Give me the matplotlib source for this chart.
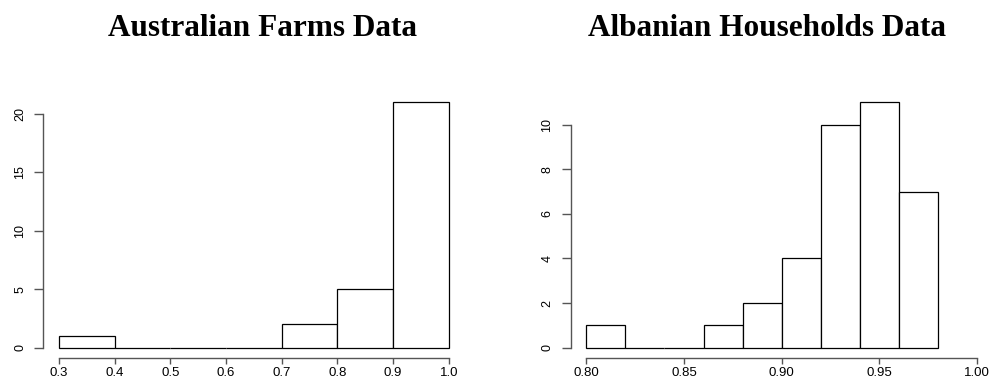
import matplotlib
matplotlib.use("Agg")
import matplotlib.pyplot as plt
import numpy as np

# Data
farm_edges = [0.3, 0.4, 0.5, 0.6, 0.7, 0.8, 0.9, 1.0]
farm_counts = [1, 0, 0, 0, 2, 5, 21]
farm_xticks = [0.3, 0.4, 0.5, 0.6, 0.7, 0.8, 0.9, 1.0]
farm_xticklabels = ["0.3", "0.4", "0.5", "0.6", "0.7", "0.8", "0.9", "1.0"]
farm_yticks = [0, 5, 10, 15, 20]

alb_edges = [0.80, 0.82, 0.84, 0.86, 0.88, 0.90, 0.92, 0.94, 0.96, 0.98]
alb_counts = [1, 0, 0, 1, 2, 4, 10, 11, 7]
alb_xticks = [0.80, 0.85, 0.90, 0.95, 1.00]
alb_xticklabels = ["0.80", "0.85", "0.90", "0.95", "1.00"]
alb_yticks = [0, 2, 4, 6, 8, 10]

titles = ["Australian Farms Data", "Albanian Households Data"]

W, H = 990, 383
fig = plt.figure(figsize=(W / 100, H / 100), dpi=100)
fig.patch.set_facecolor("white")

axis_col = "#555555"


def r_hist(ax, edges, counts, xlim_data, xticks, xticklabels, yticks):
    edges = np.asarray(edges)
    widths = np.diff(edges)
    ax.bar(edges[:-1], counts, width=widths, align="edge",
           facecolor="white", edgecolor="black", linewidth=0.9)
    x0, x1 = xlim_data
    dx = (x1 - x0) * 0.04
    ax.set_xlim(x0 - dx, x1 + dx)
    ymax = max(counts)
    dy = ymax * 0.04
    ax.set_ylim(-dy, ymax + dy)
    for s in ["top", "right"]:
        ax.spines[s].set_visible(False)
    ax.spines["left"].set_bounds(yticks[0], yticks[-1])
    ax.spines["bottom"].set_bounds(xticks[0], xticks[-1])
    for s in ["left", "bottom"]:
        ax.spines[s].set_color(axis_col)
        ax.spines[s].set_linewidth(1.0)
    ax.set_xticks(xticks)
    ax.set_xticklabels(xticklabels, fontsize=9.5, family="Liberation Sans")
    ax.set_yticks(yticks)
    ax.set_yticklabels([str(v) for v in yticks], fontsize=9,
                       family="Liberation Sans", rotation=90, va="center")
    ax.tick_params(axis="x", length=4, width=1.0, color=axis_col, pad=2.5)
    ax.tick_params(axis="y", length=6.5, width=1.0, color=axis_col, pad=6)
    ax.set_facecolor("white")


bottom = 1 - 357.5 / H
height = (357.5 - 92.5) / H

ax1 = fig.add_axes([43.4 / W, bottom, 421.0 / W, height])
r_hist(ax1, farm_edges, farm_counts, (0.3, 1.0), farm_xticks,
       farm_xticklabels, farm_yticks)

ax2 = fig.add_axes([570.7 / W, bottom, 421.9 / W, height])
r_hist(ax2, alb_edges, alb_counts, (0.8, 1.0), alb_xticks,
       alb_xticklabels, alb_yticks)

fig.text(263 / W, 1 - 35.7 / H, titles[0], ha="center", va="baseline",
         fontsize=22.5, fontweight="bold", family="Liberation Serif")
fig.text(767.5 / W, 1 - 35.7 / H, titles[1], ha="center", va="baseline",
         fontsize=22.5, fontweight="bold", family="Liberation Serif")

fig.savefig("out.png", dpi=100, facecolor="white")
